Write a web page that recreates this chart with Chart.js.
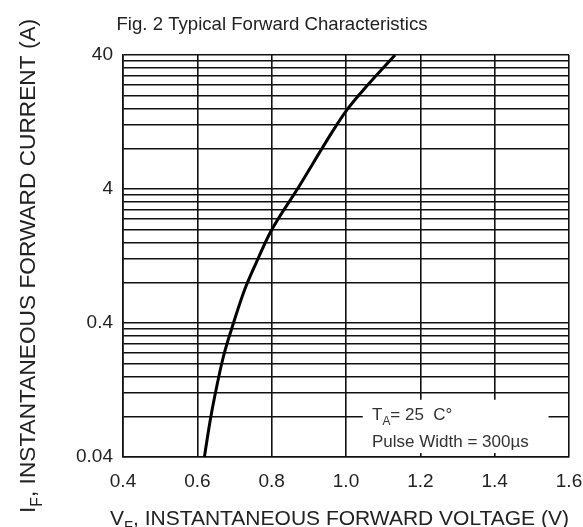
<!DOCTYPE html>
<html>
<head>
<meta charset="utf-8">
<script src="https://cdn.jsdelivr.net/npm/chart.js@4.4.1/dist/chart.umd.min.js"></script>
<style>
  html, body { margin: 0; padding: 0; background: #fff; }
  #fwdChart { display: block; }
</style>
</head>
<body>
<canvas id="fwdChart" width="583" height="527" style="width:583px;height:527px"></canvas>
<script>
/* --- Data ---------------------------------------------------------------- */
const vF = [0.619, 0.634, 0.6475, 0.670, 0.697, 0.727, 0.758, 0.7955, 0.871, 0.966, 1.002, 1.0466, 1.132];
const iF = [0.04, 0.0734, 0.116, 0.224, 0.398, 0.705, 1.12, 1.88, 4.07, 11.0, 15.5, 21.9, 40];

const xTickVals   = [0.4, 0.6, 0.8, 1.0, 1.2, 1.4, 1.6];
const xTickLabels = ['0.4', '0.6', '0.8', '1.0', '1.2', '1.4', '1.6'];

// log grid: 1..10 x base value in each decade
const yGridVals = [0.04, 0.08, 0.12, 0.16, 0.2, 0.24, 0.28, 0.32, 0.36,
                   0.4, 0.8, 1.2, 1.6, 2, 2.4, 2.8, 3.2, 3.6,
                   4, 8, 12, 16, 20, 24, 28, 32, 36, 40];
const yLabelVals = [0.04, 0.4, 4, 40];
const yLabels    = ['0.04', '0.4', '4', '40'];

const titleText = 'Fig. 2 Typical Forward Characteristics';
const xTitle = [['V', false], ['F', true], [', INSTANTANEOUS FORWARD VOLTAGE (V)', false]];
const yTitle = [['I', false], ['F', true], [', INSTANTANEOUS FORWARD CURRENT (A)', false]];
const noteLine1 = [['T', false], ['A', true], ['= 25  C\u00B0', false]];
const noteLine2 = [['Pulse Width = 300\u00B5s', false]];

// note box placement, in data units
const noteBox = { x0: 1.045, x1: 1.545, y0: 0.0428, y1: 0.107 };
const noteText = { x: 1.07, y1: 0.0755, y2: 0.0475 };

/* --- Helpers ------------------------------------------------------------- */
const FAMILY = '"Liberation Sans", Arial, Helvetica, sans-serif';
const gridCol = '#111';

function drawRich(ctx, parts, x, y, size) {
  let cx = x;
  parts.forEach(p => {
    const s = p[1] ? size * 0.7 : size;
    ctx.font = s + 'px ' + FAMILY;
    ctx.fillText(p[0], cx, y + (p[1] ? size * 0.3 : 0));
    cx += ctx.measureText(p[0]).width;
  });
}

const extras = {
  id: 'extras',
  beforeDatasetsDraw(c) {
    const { x, y } = c.scales, ctx = c.ctx;
    const l = x.getPixelForValue(noteBox.x0), r = x.getPixelForValue(noteBox.x1);
    const t = y.getPixelForValue(noteBox.y1), b = y.getPixelForValue(noteBox.y0);
    ctx.save();
    ctx.fillStyle = '#fff';
    ctx.fillRect(l, t, r - l, b - t);
    ctx.restore();
  },
  afterDraw(c) {
    const { x, y } = c.scales, ctx = c.ctx;
    ctx.save();
    ctx.textBaseline = 'alphabetic';
    ctx.fillStyle = '#222';

    // chart title
    ctx.font = '18.6px ' + FAMILY;
    ctx.textAlign = 'center';
    ctx.fillText(titleText, 272, 30);
    ctx.textAlign = 'left';

    // x axis title
    drawRich(ctx, xTitle, 110, 525, 21);

    // y axis title, reads bottom to top
    ctx.save();
    ctx.translate(35, 513);
    ctx.rotate(-Math.PI / 2);
    drawRich(ctx, yTitle, 0, 0, 22.7);
    ctx.restore();

    // conditions note
    ctx.fillStyle = '#333';
    const nx = x.getPixelForValue(noteText.x);
    drawRich(ctx, noteLine1, nx, y.getPixelForValue(noteText.y1), 17);
    drawRich(ctx, noteLine2, nx, y.getPixelForValue(noteText.y2), 17);
    ctx.restore();
  }
};

/* --- Chart --------------------------------------------------------------- */
const ctx = document.getElementById('fwdChart').getContext('2d');
const chart = new Chart(ctx, {
  type: 'line',
  data: {
    datasets: [{
      data: vF.map((v, i) => ({ x: v, y: iF[i] })),
      borderColor: '#000', borderWidth: 3, pointRadius: 0, fill: false,
      cubicInterpolationMode: 'monotone'
    }]
  },
  options: {
    responsive: false, animation: false,
    layout: { padding: { top: 55, right: 14, left: 0, bottom: 0 } },
    plugins: { legend: { display: false }, title: { display: false }, tooltip: { enabled: false } },
    scales: {
      x: {
        type: 'linear', min: 0.4, max: 1.6,
        afterBuildTicks: s => { s.ticks = xTickVals.map(v => ({ value: v })); },
        afterFit: s => { s.height = 70; s.paddingLeft = 0; s.paddingRight = 0; },
        grid: { color: gridCol, lineWidth: 1.6, drawTicks: false },
        border: { color: gridCol, width: 1.6 },
        ticks: {
          autoSkip: false, maxRotation: 0, padding: 13, color: '#222',
          font: { family: FAMILY, size: 19 },
          callback: (v, i) => xTickLabels[i]
        }
      },
      y: {
        type: 'logarithmic', min: 0.04, max: 40,
        afterBuildTicks: s => { s.ticks = yGridVals.map(v => ({ value: v })); },
        afterFit: s => { s.width = 123; s.paddingTop = 0; s.paddingBottom = 0; },
        grid: { color: gridCol, lineWidth: 1.6, drawTicks: false },
        border: { color: gridCol, width: 1.6 },
        ticks: {
          autoSkip: false, padding: 10, color: '#222',
          font: { family: FAMILY, size: 19 },
          callback: v => {
            const k = yLabelVals.findIndex(t => Math.abs(t - v) / t < 1e-6);
            return k < 0 ? '' : yLabels[k];
          }
        }
      }
    }
  },
  plugins: [extras]
});
</script>
</body>
</html>
